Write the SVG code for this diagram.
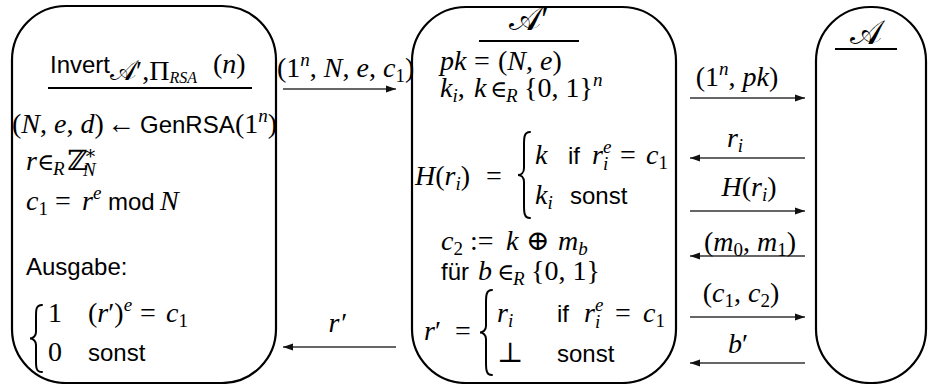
<svg xmlns="http://www.w3.org/2000/svg" width="928" height="384" viewBox="0 0 928 384">
<style>
.box{fill:none;stroke:#000;stroke-width:2.2}
.ul{stroke:#000;stroke-width:2.2}
.br{fill:none;stroke:#000;stroke-width:2;stroke-linecap:round}
.sans{font-family:"Liberation Sans",Arial,sans-serif;font-size:24px;font-style:normal}
.m{font-family:"Liberation Serif","DejaVu Serif",serif;font-size:28px}
.i{font-style:italic}
.s{font-size:19px}
.ss{font-size:16px}
.ds{font-family:"DejaVu Serif",serif}
.el{font-family:"DejaVu Serif",serif;font-size:23px;font-style:normal}
.cal{font-size:34px}
.arr{stroke:#333;stroke-width:1.5;fill:none;marker-end:url(#ah)}
text{fill:#000}
</style>
<defs>
<marker id="ah" markerUnits="userSpaceOnUse" markerWidth="11" markerHeight="8" refX="10" refY="4" orient="auto">
<path d="M0,0.5 L10,4 L0,7.5 z" fill="#111"/>
</marker>
</defs>

<g id="invert">
<rect class="box" x="12" y="6" width="264" height="377" rx="54"/>
<text class="sans" x="50" y="73">Invert<tspan class="m" font-size="26px" dy="7">𝒜′,Π</tspan><tspan class="m i ss" dy="3">RSA</tspan><tspan class="m" x="213" dy="-10">(<tspan class="i">n</tspan>)</tspan></text>
<line class="ul" x1="48" y1="88" x2="252" y2="88"/>
<text class="m" y="133"><tspan x="12">(</tspan><tspan class="i">N</tspan>, <tspan class="i">e</tspan>, <tspan class="i">d</tspan>)<tspan x="107">←</tspan><tspan class="sans" x="140">GenRSA</tspan><tspan x="235">(1</tspan><tspan class="i s" dy="-11">n</tspan><tspan dy="11">)</tspan></text>
<text class="m" y="170"><tspan class="i" x="26">r</tspan><tspan class="el" x="37">∈</tspan><tspan class="i s" x="53" dy="5">R</tspan><tspan class="ds" x="67" dy="-5">ℤ</tspan><tspan class="s" x="84" dy="-11">∗</tspan><tspan class="i s" x="83" dy="17">N</tspan></text>
<text class="m" y="210"><tspan class="i" x="26">c</tspan><tspan class="s" dy="5">1</tspan><tspan x="55" dy="-5">=</tspan><tspan class="i" x="82">r</tspan><tspan class="i s" dy="-11">e</tspan><tspan class="sans" x="108" dy="11">mod</tspan><tspan class="i" x="160">N</tspan></text>
<text class="sans" x="26" y="275">Ausgabe:</text>
<path class="br" d="M42,305 C36,305 36,310 36,316 L36,332 C36,336 33,338.5 30,338.5 C33,338.5 36,341 36,345 L36,361 C36,367 36,372 42,372"/>
<text class="m" y="322"><tspan x="48">1</tspan><tspan x="88">(</tspan><tspan class="i">r</tspan>′)<tspan class="i s" dy="-11">e</tspan><tspan dy="11" x="140">=</tspan><tspan class="i" x="166">c</tspan><tspan class="s" dy="5">1</tspan></text>
<text class="m" y="361"><tspan x="48">0</tspan><tspan class="sans" x="88">sonst</tspan></text>
</g>

<g id="adversary-prime">
<rect class="box" x="412" y="7" width="264" height="376" rx="54"/>
<text class="m cal" x="529" y="30" text-anchor="middle">𝒜′</text>
<line class="ul" x1="479" y1="41" x2="579" y2="41"/>
<text class="m" y="70"><tspan class="i" x="440">pk</tspan><tspan x="474">=</tspan><tspan x="498">(</tspan><tspan class="i">N</tspan>, <tspan class="i">e</tspan>)</text>
<text class="m" y="97"><tspan class="i" x="440">k</tspan><tspan class="i s" dy="5">i</tspan><tspan dy="-5">, </tspan><tspan class="i" x="474">k</tspan><tspan class="el" x="490">∈</tspan><tspan class="i s" x="506" dy="5">R</tspan><tspan x="524" dy="-5">{0, 1}</tspan><tspan class="i s" dy="-11">n</tspan></text>
<text class="m" y="185"><tspan class="i" x="415">H</tspan>(<tspan class="i">r</tspan><tspan class="i s" dy="5">i</tspan><tspan dy="-5">)</tspan><tspan x="486">=</tspan></text>
<path class="br" d="M530,132 C524,132 524,138 524,145 L524,168 C524,173 521,175 518,175 C521,175 524,177 524,182 L524,205 C524,212 524,218 530,218"/>
<text class="m" y="164"><tspan class="i" x="535">k</tspan><tspan class="sans" x="568">if</tspan><tspan class="i" x="592">r</tspan><tspan class="i s" x="603" dy="-11">e</tspan><tspan class="i s" x="603" dy="17">i</tspan><tspan x="620" dy="-6">=</tspan><tspan class="i" x="646">c</tspan><tspan class="s" dy="5">1</tspan></text>
<text class="m" y="204"><tspan class="i" x="535">k</tspan><tspan class="i s" dy="5">i</tspan><tspan class="sans" x="570" dy="-5">sonst</tspan></text>
<text class="m" y="250"><tspan class="i" x="441">c</tspan><tspan class="s" dy="5">2</tspan><tspan x="470" dy="-5">:=</tspan><tspan class="i" x="506">k</tspan><tspan class="ds" x="526">⊕</tspan><tspan class="i" x="558">m</tspan><tspan class="i s" dy="5">b</tspan></text>
<text class="sans" y="280"><tspan x="441">für</tspan><tspan class="m i" x="478">b</tspan><tspan class="el" x="497">∈</tspan><tspan class="m i s" x="513" dy="5">R</tspan><tspan class="m" x="531" dy="-5">{0, 1}</tspan></text>
<text class="m" y="340"><tspan class="i" x="424">r</tspan>′<tspan x="455">=</tspan></text>
<path class="br" d="M492,290 C486,290 486,296 486,303 L486,326 C486,330 483,332.5 480,332.5 C483,332.5 486,335 486,339 L486,362 C486,369 486,375 492,375"/>
<text class="m" y="322"><tspan class="i" x="497">r</tspan><tspan class="i s" dy="5">i</tspan><tspan class="sans" x="557" dy="-5">if</tspan><tspan class="i" x="584">r</tspan><tspan class="i s" x="595" dy="-11">e</tspan><tspan class="i s" x="595" dy="17">i</tspan><tspan x="615" dy="-6">=</tspan><tspan class="i" x="643">c</tspan><tspan class="s" dy="5">1</tspan></text>
<text class="m" y="362"><tspan class="ds" x="497">⊥</tspan><tspan class="sans" x="557">sonst</tspan></text>
</g>

<g id="adversary">
<rect class="box" x="816" y="7" width="110" height="376" rx="54"/>
<text class="m cal" x="866" y="44" text-anchor="middle">𝒜</text>
<line class="ul" x1="835" y1="49" x2="897" y2="49"/>
</g>

<g id="connectors">
<line class="arr" x1="283" y1="89" x2="396" y2="89"/>
<line class="arr" x1="396" y1="347" x2="283" y2="347"/>
<line class="arr" x1="690" y1="98" x2="805" y2="98"/>
<line class="arr" x1="805" y1="158" x2="690" y2="158"/>
<line class="arr" x1="690" y1="211" x2="805" y2="211"/>
<line class="arr" x1="805" y1="256" x2="690" y2="256"/>
<line class="arr" x1="690" y1="317" x2="805" y2="317"/>
<line class="arr" x1="805" y1="363" x2="690" y2="363"/>
<text class="m" y="77"><tspan x="277">(1</tspan><tspan class="i s" dy="-11">n</tspan><tspan dy="11">, </tspan><tspan class="i">N</tspan>, <tspan class="i">e</tspan>, <tspan class="i">c</tspan><tspan class="s" dy="5">1</tspan><tspan dy="-5">)</tspan></text>
<text class="m i" x="337" y="332" text-anchor="middle">r′</text>
<text class="m" x="737" y="86" text-anchor="middle">(1<tspan class="i s" dy="-11">n</tspan><tspan dy="11">, </tspan><tspan class="i">pk</tspan>)</text>
<text class="m" x="735" y="147" text-anchor="middle"><tspan class="i">r</tspan><tspan class="i s" dy="5">i</tspan></text>
<text class="m" x="749" y="196" text-anchor="middle"><tspan class="i">H</tspan>(<tspan class="i">r</tspan><tspan class="i s" dy="5">i</tspan><tspan dy="-5">)</tspan></text>
<text class="m" x="750" y="251" text-anchor="middle">(<tspan class="i">m</tspan><tspan class="s" dy="5">0</tspan><tspan dy="-5">, </tspan><tspan class="i">m</tspan><tspan class="s" dy="5">1</tspan><tspan dy="-5">)</tspan></text>
<text class="m" x="741" y="302" text-anchor="middle">(<tspan class="i">c</tspan><tspan class="s" dy="5">1</tspan><tspan dy="-5">, </tspan><tspan class="i">c</tspan><tspan class="s" dy="5">2</tspan><tspan dy="-5">)</tspan></text>
<text class="m" x="738" y="353" text-anchor="middle"><tspan class="i">b</tspan>′</text>
</g>
</svg>
